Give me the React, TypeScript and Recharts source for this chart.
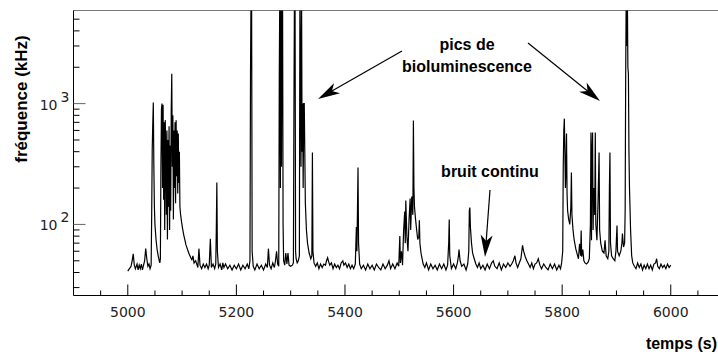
import React from 'react';
import { LineChart, Line, XAxis, YAxis, ReferenceLine } from 'recharts';

// temps (s)
const times = [
  5000, 5003, 5006, 5008, 5010, 5012, 5014, 5017, 5019, 5021,
  5023, 5025, 5027, 5029, 5031, 5033, 5035, 5037, 5039, 5041,
  5043, 5044, 5045, 5046, 5047, 5048, 5049, 5050, 5052, 5054,
  5056, 5058, 5059, 5060, 5061, 5062, 5063, 5064, 5065, 5066,
  5067, 5068, 5069, 5070, 5071, 5072, 5073, 5074, 5075, 5076,
  5077, 5078, 5079, 5080, 5081, 5082, 5083, 5084, 5085, 5086,
  5087, 5088, 5089, 5090, 5091, 5092, 5093, 5094, 5095, 5096,
  5097, 5099, 5101, 5103, 5105, 5107, 5110, 5113, 5116, 5118,
  5120, 5122, 5125, 5127, 5129, 5131, 5133, 5136, 5139, 5142,
  5145, 5148, 5150, 5152, 5154, 5157, 5160, 5162, 5163, 5164,
  5165, 5167, 5170, 5173, 5175, 5177, 5180, 5184, 5188, 5192,
  5196, 5200, 5204, 5208, 5212, 5216, 5220, 5223, 5225, 5226,
  5227, 5228, 5229, 5231, 5234, 5238, 5242, 5246, 5250, 5254,
  5257, 5259, 5261, 5264, 5267, 5270, 5272, 5274, 5276, 5278,
  5279, 5280, 5281, 5282, 5283, 5284, 5285, 5286, 5287, 5289,
  5291, 5293, 5295, 5297, 5300, 5303, 5305, 5306, 5307, 5308,
  5309, 5310, 5312, 5314, 5316, 5317, 5318, 5319, 5320, 5321,
  5322, 5323, 5324, 5325, 5326, 5327, 5329, 5331, 5334, 5337,
  5339, 5340, 5341, 5343, 5346, 5349, 5352, 5355, 5358, 5361,
  5364, 5366, 5368, 5370, 5372, 5375, 5378, 5381, 5384, 5387,
  5390, 5393, 5396, 5398, 5401, 5404, 5407, 5410, 5413, 5416,
  5419, 5421, 5422, 5424, 5425, 5427, 5430, 5434, 5438, 5442,
  5446, 5450, 5454, 5458, 5462, 5466, 5470, 5474, 5478, 5481,
  5484, 5488, 5492, 5496, 5499, 5501, 5502, 5504, 5506, 5508,
  5510, 5511, 5512, 5514, 5516, 5518, 5520, 5521, 5523, 5525,
  5526, 5527, 5528, 5530, 5532, 5534, 5536, 5537, 5538, 5540,
  5542, 5544, 5547, 5550, 5554, 5558, 5562, 5566, 5570, 5574,
  5578, 5582, 5586, 5589, 5591, 5592, 5593, 5596, 5600, 5604,
  5607, 5609, 5610, 5612, 5615, 5619, 5623, 5626, 5628, 5629,
  5630, 5631, 5633, 5635, 5638, 5641, 5644, 5647, 5650, 5654,
  5658, 5662, 5666, 5670, 5673, 5676, 5680, 5684, 5688, 5692,
  5696, 5700, 5704, 5707, 5710, 5713, 5715, 5718, 5721, 5724,
  5727, 5729, 5732, 5735, 5738, 5741, 5744, 5747, 5750, 5753,
  5756, 5759, 5762, 5766, 5770, 5774, 5778, 5782, 5786, 5790,
  5794, 5797, 5799, 5801, 5802, 5803, 5804, 5805, 5806, 5807,
  5808, 5809, 5810, 5812, 5814, 5816, 5817, 5818, 5820, 5822,
  5825, 5828, 5830, 5832, 5834, 5835, 5836, 5838, 5840, 5842,
  5845, 5848, 5850, 5852, 5853, 5854, 5855, 5856, 5857, 5858,
  5860, 5861, 5862, 5864, 5866, 5868, 5869, 5871, 5874, 5877,
  5879, 5881, 5884, 5886, 5887, 5888, 5889, 5891, 5894, 5897,
  5899, 5901, 5902, 5905, 5908, 5910, 5911, 5913, 5915, 5916,
  5917, 5918, 5919, 5920, 5921, 5922, 5923, 5924, 5926, 5928,
  5930, 5933, 5936, 5939, 5942, 5945, 5948, 5951, 5954, 5957,
  5960, 5963, 5966, 5969, 5972, 5974, 5976, 5979, 5982, 5985,
  5988, 5991, 5994, 5997, 6000,
];

// fréquence (kHz) — values above the top of the axis are clipped
const freqs = [
  41, 43, 45, 50, 57, 46, 43, 47, 42, 46,
  43, 47, 42, 46, 50, 63, 52, 45, 47, 43,
  46, 120, 420, 680, 1020, 300, 140, 100, 75, 62,
  55, 50, 48, 52, 300, 900, 1000, 200, 980, 160,
  700, 90, 730, 400, 120, 600, 75, 500, 140, 650,
  90, 450, 130, 900, 1770, 300, 800, 110, 600, 200,
  700, 150, 730, 250, 600, 180, 565, 220, 400, 140,
  123, 105, 92, 82, 75, 68, 62, 57, 53, 51,
  55, 48, 50, 47, 44, 63, 46, 43, 47, 44,
  47, 43, 46, 76, 44, 47, 43, 47, 90, 222,
  60, 44, 47, 42, 48, 44, 47, 43, 46, 42,
  46, 43, 47, 42, 46, 43, 47, 43, 50, 1770,
  9000, 9000, 60, 45, 42, 47, 43, 46, 42, 47,
  44, 63, 46, 43, 48, 44, 50, 60, 47, 45,
  1770, 9000, 200, 9000, 300, 9000, 9000, 100, 50, 46,
  58, 47, 58, 46, 45, 46, 48, 1000, 9000, 9000,
  60, 52, 48, 50, 55, 9000, 1770, 300, 9000, 400,
  1000, 200, 1000, 1000, 400, 150, 90, 70, 58, 52,
  55, 394, 60, 48, 45, 48, 43, 47, 44, 47,
  46, 50, 53, 49, 46, 48, 43, 47, 44, 46,
  43, 48, 50, 46, 48, 44, 47, 43, 46, 43,
  47, 95, 60, 296, 70, 47, 43, 46, 42, 47,
  43, 46, 42, 47, 44, 42, 47, 43, 46, 50,
  43, 47, 43, 48, 45, 80, 48, 60, 46, 90,
  128, 70, 158, 80, 60, 110, 164, 90, 170, 120,
  724, 200, 140, 110, 90, 75, 80, 108, 70, 58,
  52, 47, 44, 48, 42, 47, 43, 46, 42, 47,
  43, 47, 42, 46, 70, 110, 55, 43, 47, 43,
  48, 55, 62, 50, 45, 47, 42, 47, 60, 130,
  138, 95, 70, 58, 52, 47, 44, 48, 43, 46,
  42, 47, 43, 48, 50, 45, 43, 48, 42, 47,
  44, 48, 45, 47, 50, 55, 48, 44, 48, 52,
  67, 60, 54, 50, 47, 44, 48, 43, 47, 48,
  52, 46, 43, 47, 44, 42, 47, 43, 47, 42,
  46, 43, 48, 60, 300, 600, 751, 400, 200, 300,
  565, 180, 130, 110, 100, 140, 269, 120, 90, 75,
  63, 56, 52, 69, 55, 89, 54, 62, 50, 48,
  47, 49, 52, 100, 576, 74, 400, 576, 90, 200,
  120, 576, 100, 74, 150, 394, 90, 70, 60, 58,
  74, 55, 52, 60, 200, 394, 70, 55, 52, 50,
  60, 98, 60, 55, 60, 70, 84, 65, 70, 130,
  1770, 9000, 3000, 9000, 2000, 1770, 400, 200, 90, 55,
  48, 45, 43, 48, 44, 47, 42, 46, 43, 47,
  43, 46, 42, 47, 48, 52, 45, 43, 47, 44,
  46, 43, 47, 44, 46,
];

const xTicks = [
  4950, 5000, 5050, 5100, 5150, 5200, 5250, 5300, 5350, 5400, 5450, 5500,
  5550, 5600, 5650, 5700, 5750, 5800, 5850, 5900, 5950, 6000, 6050,
];
const yTicks = [
  30, 40, 50, 60, 70, 80, 90, 100, 200, 300, 400, 500, 600, 700, 800, 900,
  1000, 2000, 3000, 4000, 5000,
];
const yExponents: Record<number, string> = { 100: '2', 1000: '3' };

const data = times.map((t, i) => ({ t, f: freqs[i] }));

const tickFont = { fontFamily: 'DejaVu Sans', fontSize: 14, fill: '#222' };
const titleFont = { fontFamily: 'Liberation Sans, Arial', fontSize: 16, fontWeight: 700, fill: '#000' };

function TimeTick(props: any) {
  const { x, y, payload } = props;
  const major = payload.value % 200 === 0;
  return (
    <g>
      <line x1={x} x2={x} y1={y} y2={y - (major ? 11 : 5)} stroke="#000" />
      {major && (
        <text x={x} y={y + 21.5} textAnchor="middle" {...tickFont}>
          {payload.value}
        </text>
      )}
    </g>
  );
}

function FreqTick(props: any) {
  const { x, y, payload } = props;
  const exp = yExponents[payload.value];
  return (
    <g>
      <line x1={x} x2={x + (exp ? 12 : 6)} y1={y} y2={y} stroke={exp ? '#666' : '#000'} />
      {exp && (
        <g>
          <text x={x - 16} y={y + 6} textAnchor="end" {...tickFont}>10</text>
          <text x={x - 13} y={y - 2} {...tickFont}>{exp}</text>
        </g>
      )}
    </g>
  );
}

function Arrow({ x1, y1, x2, y2 }: { x1: number; y1: number; y2: number; x2: number }) {
  const dx = x2 - x1;
  const dy = y2 - y1;
  const len = Math.hypot(dx, dy);
  const ux = dx / len;
  const uy = dy / len;
  const head = 22;
  const half = 6;
  const bx = x2 - ux * head;
  const by = y2 - uy * head;
  const nx = x2 - ux * (head - 6);
  const ny = y2 - uy * (head - 6);
  const pts = [
    [x2, y2],
    [bx - uy * half, by + ux * half],
    [nx, ny],
    [bx + uy * half, by - ux * half],
  ]
    .map((p) => p.join(','))
    .join(' ');
  return (
    <g>
      <line x1={x1} y1={y1} x2={nx} y2={ny} stroke="#000" strokeWidth={1.2} />
      <polygon points={pts} fill="#000" />
    </g>
  );
}

export default function App() {
  return (
    <div style={{ position: 'absolute', left: 0, top: 0, width: 718, height: 354, background: '#fff' }}>
      <LineChart width={718} height={354} data={data} margin={{ top: 10.5, right: 0, bottom: 0, left: 0 }}>
        <XAxis
          dataKey="t"
          type="number"
          domain={[4900, 6087]}
          allowDataOverflow
          ticks={xTicks}
          interval={0}
          tickLine={false}
          tickSize={0}
          tickMargin={0}
          height={58.5}
          axisLine={{ stroke: '#000' }}
          tick={<TimeTick />}
        />
        <YAxis
          dataKey="f"
          scale="log"
          domain={[25.8, 5900]}
          allowDataOverflow
          ticks={yTicks}
          interval={0}
          tickLine={false}
          tickSize={0}
          tickMargin={0}
          width={73.5}
          axisLine={{ stroke: '#000' }}
          tick={<FreqTick />}
        />
        <ReferenceLine y={5900} stroke="#777" />
        <Line
          type="linear"
          dataKey="f"
          stroke="#000"
          strokeWidth={1.2}
          dot={false}
          isAnimationActive={false}
        />
      </LineChart>
      <svg width={718} height={354} style={{ position: 'absolute', left: 0, top: 0, pointerEvents: 'none' }}>
        <text transform="translate(27,99) rotate(-90)" textAnchor="middle" {...titleFont} fontSize={17}>
          fréquence (kHz)
        </text>
        <text x={717} y={349} textAnchor="end" {...titleFont}>temps (s)</text>
        <text x={467} y={50} textAnchor="middle" {...titleFont}>pics de</text>
        <text x={467} y={72} textAnchor="middle" {...titleFont}>bioluminescence</text>
        <text x={490} y={177} textAnchor="middle" {...titleFont}>bruit continu</text>
        <Arrow x1={402} y1={51} x2={318} y2={99} />
        <Arrow x1={528} y1={43} x2={600} y2={101} />
        <Arrow x1={490} y1={190} x2={485} y2={257} />
      </svg>
    </div>
  );
}
